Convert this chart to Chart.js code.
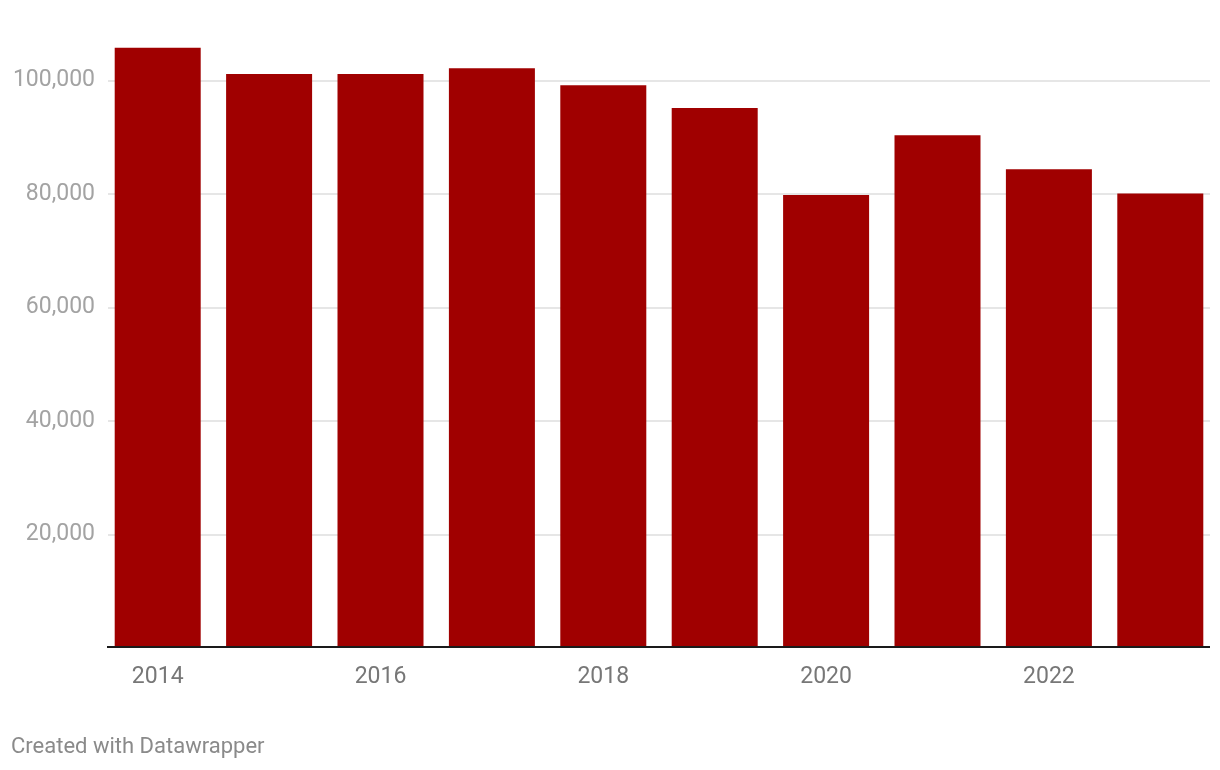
<!DOCTYPE html>
<html>
<head>
<meta charset="utf-8">
<script src="https://cdn.jsdelivr.net/npm/chart.js@4.4.1/dist/chart.umd.min.js"></script>
<style>
  html, body { margin: 0; padding: 0; background: #ffffff; }
  #wrap { position: relative; width: 1220px; height: 770px; }
  #c { position: absolute; left: 0; top: 0; }
  #footer { position: absolute; left: 11px; top: 733px; font-family: Roboto, sans-serif; font-size: 22px; color: #8a8a8a; }
</style>
</head>
<body>
<div id="wrap">
  <canvas id="c" width="1220" height="770"></canvas>
  <div id="footer">Created with Datawrapper</div>
</div>
<script>
const categories = ['2014','2015','2016','2017','2018','2019','2020','2021','2022','2023'];
const values = [105800, 101200, 101200, 102200, 99200, 95200, 79850, 90400, 84400, 80100];
const xTickLabels = ['2014','','2016','','2018','','2020','','2022',''];
const yTickValues = [20000, 40000, 60000, 80000, 100000];
const yTickLabels = ['20,000', '40,000', '60,000', '80,000', '100,000'];

const gridPlugin = {
  id: 'dwGrid',
  beforeDatasetsDraw(chart) {
    const ctx = chart.ctx, y = chart.scales.y, a = chart.chartArea;
    ctx.save();
    ctx.strokeStyle = '#e6e6e6';
    ctx.lineWidth = 2;
    yTickValues.forEach(v => {
      const py = Math.round(y.getPixelForValue(v));
      ctx.beginPath();
      ctx.moveTo(a.left + 6, py);
      ctx.lineTo(a.right - 6, py);
      ctx.stroke();
    });
    ctx.restore();
  },
  afterDatasetsDraw(chart) {
    const ctx = chart.ctx, y = chart.scales.y, a = chart.chartArea;
    ctx.save();
    ctx.strokeStyle = '#1a1a1a';
    ctx.lineWidth = 2;
    const py = Math.round(y.getPixelForValue(0)) - 1;
    ctx.beginPath();
    ctx.moveTo(a.left + 5, py);
    ctx.lineTo(a.right - 6, py);
    ctx.stroke();
    ctx.restore();
  }
};

function yLabel(v) {
  for (let i = 0; i < yTickValues.length; i++) {
    if (Math.abs(Number(v) - yTickValues[i]) < 1) return yTickLabels[i];
  }
  return '';
}

new Chart(document.getElementById('c'), {
  type: 'bar',
  data: {
    labels: categories,
    datasets: [{
      data: values,
      backgroundColor: '#a00000',
      borderWidth: 0,
      categoryPercentage: 1,
      barPercentage: 0.772
    }]
  },
  options: {
    responsive: false,
    animation: false,
    devicePixelRatio: 1,
    layout: { padding: { top: 24, right: 4, left: 0, bottom: 0 } },
    plugins: { legend: { display: false }, tooltip: { enabled: false } },
    scales: {
      x: {
        grid: { display: false, drawTicks: false },
        border: { display: false },
        ticks: {
          autoSkip: false, maxRotation: 0, padding: 15,
          color: '#777777',
          font: { family: 'Roboto', size: 23 },
          callback: (v, i) => xTickLabels[i]
        },
        afterFit: s => { s.height = 122; }
      },
      y: {
        min: 0, max: 110000,
        grid: { display: false, drawTicks: false },
        border: { display: false },
        afterBuildTicks: s => { s.ticks = [0, ...yTickValues].map(v => ({ value: v })); },
        ticks: {
          padding: 7, autoSkip: false,
          color: '#a3a3a3',
          font: { family: 'Roboto', size: 23 },
          callback: v => yLabel(v)
        },
        afterFit: s => { s.width = 102; }
      }
    }
  },
  plugins: [gridPlugin]
});
</script>
</body>
</html>
